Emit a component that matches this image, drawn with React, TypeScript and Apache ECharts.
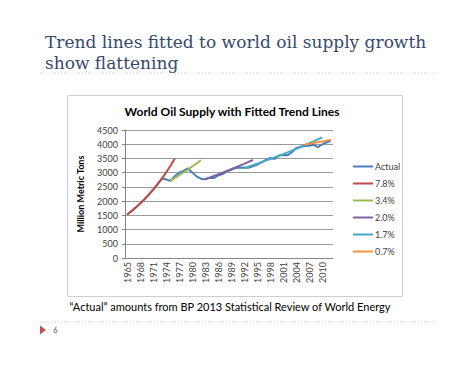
import React, { useEffect, useRef } from "react";
import * as echarts from "echarts";

const years: string[] = [
  "1965","1966","1967","1968","1969","1970","1971","1972","1973","1974",
  "1975","1976","1977","1978","1979","1980","1981","1982","1983","1984",
  "1985","1986","1987","1988","1989","1990","1991","1992","1993","1994",
  "1995","1996","1997","1998","1999","2000","2001","2002","2003","2004",
  "2005","2006","2007","2008","2009","2010","2011","2012",
];

const actual: number[] = [
  1530, 1650, 1780, 1920, 2070, 2230, 2400, 2600, 2790, 2760,
  2710, 2880, 3000, 3060, 3150, 3010, 2870, 2790, 2770, 2820,
  2810, 2900, 2950, 3040, 3100, 3160, 3170, 3180, 3175, 3220,
  3280, 3360, 3450, 3520, 3480, 3600, 3620, 3610, 3720, 3860,
  3910, 3940, 3950, 3980, 3900, 3990, 4060, 4130,
];

const n = null;
const trend78: (number | null)[] = [
  1530, 1649, 1778, 1917, 2066, 2227, 2401, 2588, 2790, 3008,
  3242, 3495,
];
const trend34: (number | null)[] = [
  n, n, n, n, n, n, n, n, n, n,
  2720, 2812, 2908, 3007, 3109, 3215, 3324, 3437,
];
const trend20: (number | null)[] = [
  n, n, n, n, n, n, n, n, n, n,
  n, n, n, n, n, n, n, n, 2770, 2825,
  2882, 2940, 2998, 3058, 3120, 3182, 3246, 3311, 3377, 3444,
];
const trend17: (number | null)[] = [
  n, n, n, n, n, n, n, n, n, n,
  n, n, n, n, n, n, n, n, n, n,
  n, n, n, n, n, n, n, 3160, 3210, 3262,
  3314, 3368, 3424, 3480, 3537, 3595, 3654, 3714, 3775, 3838,
  3902, 3967, 4033, 4100, 4168, 4237,
];
const trend07: (number | null)[] = [
  n, n, n, n, n, n, n, n, n, n,
  n, n, n, n, n, n, n, n, n, n,
  n, n, n, n, n, n, n, n, n, n,
  n, n, n, n, n, n, n, n, n, n,
  n, 3985, 4013, 4041, 4069, 4097, 4126, 4155,
];

const seriesNames = ["Actual", "7.8%", "3.4%", "2.0%", "1.7%", "0.7%"];
const seriesColors = ["#4A7EBB", "#BE4B48", "#98B954", "#7D60A0", "#46AAC5", "#F69240"];
const seriesData = [actual, trend78, trend34, trend20, trend17, trend07];

const yTicks = { min: 0, max: 4500, interval: 500 };

export default function App() {
  const ref = useRef<HTMLDivElement>(null);
  useEffect(() => {
    if (!ref.current) return;
    const chart = echarts.init(ref.current, undefined, { renderer: "svg" });
    chart.setOption({
      animation: false,
      backgroundColor: "#ffffff",
      grid: { left: 125, right: 141, top: 130, bottom: 108, containLabel: false },
      xAxis: {
        type: "category",
        data: years,
        boundaryGap: true,
        axisLine: { lineStyle: { color: "#868686", width: 1 } },
        axisTick: { interval: 0, length: 3, lineStyle: { color: "#868686" } },
        axisLabel: {
          interval: 2,
          rotate: 90,
          fontSize: 9,
          color: "#404040",
          fontFamily: "Lato",
          margin: 4,
        },
      },
      yAxis: {
        type: "value",
        min: yTicks.min,
        max: yTicks.max,
        interval: yTicks.interval,
        name: "Million Metric Tons",
        nameLocation: "middle",
        nameGap: 40,
        nameTextStyle: { fontSize: 9, fontWeight: "bold", color: "#000", fontFamily: "Lato" },
        axisLine: { show: true, lineStyle: { color: "#868686" } },
        axisTick: { show: true, length: 3, lineStyle: { color: "#868686" } },
        axisLabel: {
          fontSize: 9,
          color: "#404040",
          fontFamily: "Lato",
          margin: 7,
          formatter: (v: number) => String(v),
        },
        splitLine: { lineStyle: { color: "#9a9a9a", width: 1 } },
      },
      legend: {
        orient: "vertical",
        left: 348,
        top: 157,
        itemWidth: 20,
        itemHeight: 2,
        itemGap: 8,
        icon: "rect",
        textStyle: { fontSize: 9, color: "#404040", fontFamily: "Lato", padding: [0, 0, 0, -3] },
        data: seriesNames,
      },
      series: seriesNames.map((name, i) => ({
        name,
        type: "line",
        data: seriesData[i],
        symbol: "none",
        connectNulls: false,
        z: 2 + i,
        lineStyle: { color: seriesColors[i], width: 2 },
        itemStyle: { color: seriesColors[i] },
      })),
      graphic: [
        {
          type: "text",
          left: 45,
          top: 31,
          style: {
            text: "Trend lines fitted to world oil supply growth\nshow flattening",
            font: "17px 'DejaVu Serif'",
            lineHeight: 21,
            fill: "#34496e",
          },
        },
        {
          type: "line",
          shape: { x1: 40, y1: 73, x2: 434, y2: 73 },
          style: { stroke: "#d9c4c4", lineWidth: 1, lineDash: [1, 2] },
        },
        {
          type: "rect",
          shape: { x: 67.5, y: 95.5, width: 335, height: 201 },
          style: { fill: "none", stroke: "#cfcfcf", lineWidth: 1 },
          z: -1,
        },
        {
          type: "text",
          x: 232,
          y: 111,
          style: {
            text: "World Oil Supply with Fitted Trend Lines",
            font: "bold 12px Lato",
            fill: "#000",
            align: "center",
            verticalAlign: "middle",
          },
        },
        {
          type: "text",
          x: 230,
          y: 306,
          style: {
            text: "\u201cActual\u201d amounts from BP 2013 Statistical Review of World Energy",
            font: "11px Lato",
            fill: "#000",
            align: "center",
            verticalAlign: "middle",
          },
        },
        {
          type: "line",
          shape: { x1: 40, y1: 322, x2: 434, y2: 322 },
          style: { stroke: "#d9c4c4", lineWidth: 1, lineDash: [1, 2] },
        },
        {
          type: "polygon",
          shape: { points: [[40, 325.5], [46, 330], [40, 334.5]] },
          style: { fill: "#c0504d" },
        },
        {
          type: "text",
          x: 53,
          y: 330,
          style: { text: "6", font: "8px Lato", fill: "#555", verticalAlign: "middle" },
        },
      ],
    });
    return () => chart.dispose();
  }, []);
  return (
    <div style={{ position: "absolute", left: 0, top: 0 }}>
      <div ref={ref} style={{ width: 474, height: 366 }} />
    </div>
  );
}
